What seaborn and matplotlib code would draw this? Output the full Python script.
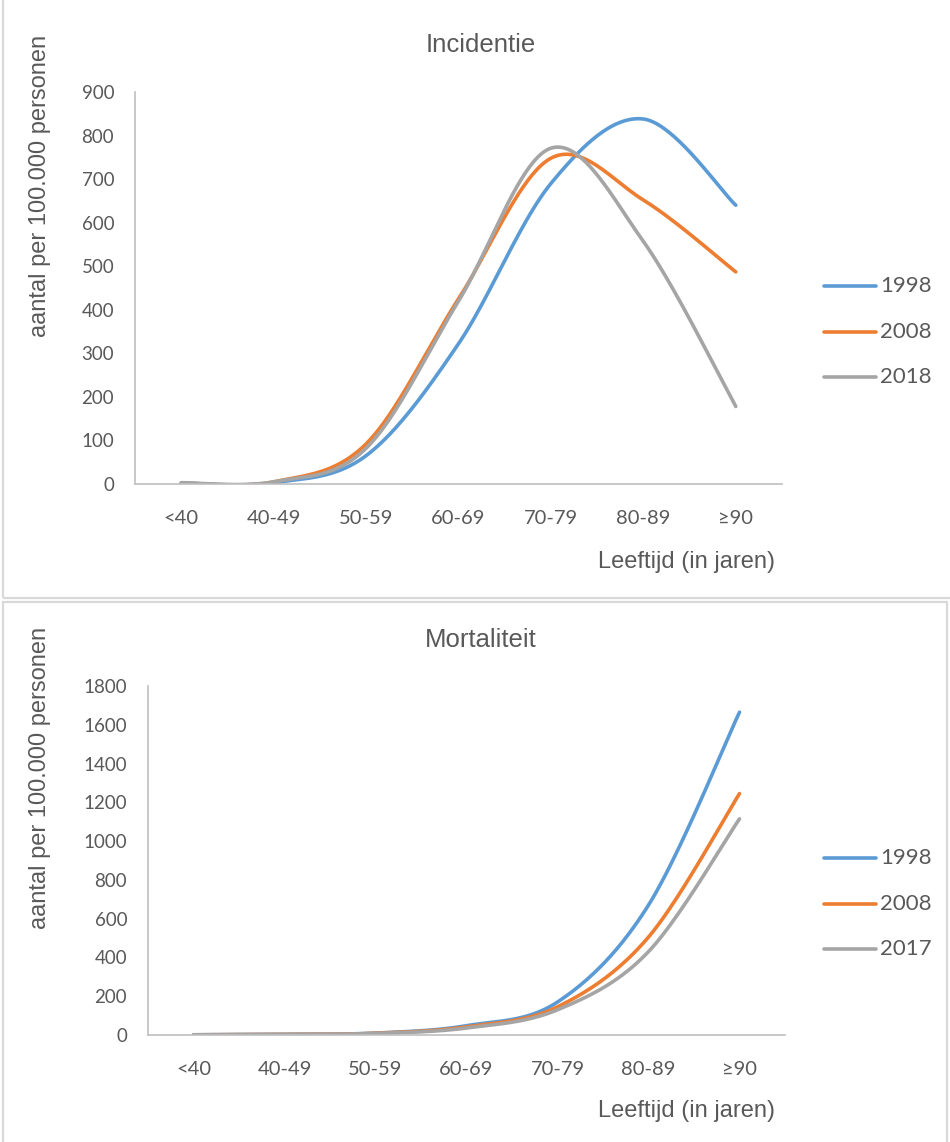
import numpy as np
import pandas as pd
import matplotlib
matplotlib.use("Agg")
import matplotlib.pyplot as plt
from matplotlib.patches import Rectangle
import seaborn as sns

# Age groups on the x axis
leeftijd = ["<40", "40-49", "50-59", "60-69", "70-79", "80-89", "≥90"]

# Incidence per 100.000 persons
inc_jaren = ["1998", "2008", "2018"]
inc_1998 = [2, 3, 65, 322, 690, 838, 640]
inc_2008 = [2, 5, 92, 425, 748, 652, 487]
inc_2018 = [3, 5, 82, 420, 771, 557, 178]

# Mortality per 100.000 persons
mort_jaren = ["1998", "2008", "2017"]
mort_1998 = [1, 3, 10, 48, 170, 670, 1665]
mort_2008 = [1, 3, 9, 42, 145, 505, 1245]
mort_2017 = [1, 3, 8, 36, 130, 430, 1115]

kleuren = ["#5B9BD5", "#ED7D31", "#A5A5A5"]
tekst = "#595959"
as_kleur = "#BFBFBF"


def smooth(y, n=40):
    """Spreadsheet-style smoothed line: cubic Bezier segments through every point."""
    y = np.asarray(y, float)
    x = np.arange(len(y), dtype=float)
    px = np.concatenate([[x[0]], x, [x[-1]]])
    py = np.concatenate([[y[0]], y, [y[-1]]])
    xs, ys = [], []
    t = np.linspace(0, 1, n, endpoint=False)
    for i in range(len(y) - 1):
        p0 = np.array([x[i], y[i]])
        p3 = np.array([x[i + 1], y[i + 1]])
        prev = np.array([px[i], py[i]])
        nxt = np.array([px[i + 3], py[i + 3]])
        c1 = p0 + (p3 - prev) / 6.0
        c2 = p3 - (nxt - p0) / 6.0
        b = ((1 - t) ** 3)[:, None] * p0 + (3 * (1 - t) ** 2 * t)[:, None] * c1 \
            + (3 * (1 - t) * t ** 2)[:, None] * c2 + (t ** 3)[:, None] * p3
        xs.append(b[:, 0]); ys.append(b[:, 1])
    xs.append([x[-1]]); ys.append([y[-1]])
    return np.concatenate(xs), np.concatenate(ys)


def long_table(jaren, reeksen):
    rows = []
    for jaar, vals in zip(jaren, reeksen):
        sx, sy = smooth(vals)
        rows.append(pd.DataFrame({"x": sx, "y": sy, "jaar": jaar}))
    return pd.concat(rows, ignore_index=True)


sns.set_theme(style="white")
plt.rcParams["font.family"] = ["Liberation Sans", "DejaVu Sans"]

W, H = 950, 1142
fig = plt.figure(figsize=(W / 100, H / 100), dpi=100)

# Panel frames
fig.patches.append(Rectangle((3 / W, 1 - 598 / H), 960 / W, 610 / H, transform=fig.transFigure,
                             fill=False, edgecolor="#D9D9D9", lw=1.6))
fig.patches.append(Rectangle((3 / W, -0.01), 944 / W, 1 - 602 / H + 0.01, transform=fig.transFigure,
                             fill=False, edgecolor="#D9D9D9", lw=1.6))

panels = [
    dict(title="Incidentie", jaren=inc_jaren, reeksen=[inc_1998, inc_2008, inc_2018],
         rect=(135, 92, 782, 484), ymax=900, ystep=100, title_y=45, ylab_y=186,
         xlab_y=562, leg_y=286),
    dict(title="Mortaliteit", jaren=mort_jaren, reeksen=[mort_1998, mort_2008, mort_2017],
         rect=(148, 686, 785, 1035), ymax=1800, ystep=200, title_y=640, ylab_y=778,
         xlab_y=1111, leg_y=858),
]

for p in panels:
    l, t, r, b = p["rect"]
    ax = fig.add_axes([l / W, 1 - b / H, (r - l) / W, (b - t) / H])
    df = long_table(p["jaren"], p["reeksen"])
    sns.lineplot(data=df, x="x", y="y", hue="jaar", palette=kleuren, lw=2.6,
                 sort=False, estimator=None, ax=ax, legend=False,
                 solid_capstyle="round")
    ax.set_xlim(-0.5, len(leeftijd) - 0.5)
    ax.set_ylim(0, p["ymax"])
    ax.set_xticks(range(len(leeftijd)))
    ax.set_xticklabels(leeftijd)
    ax.set_yticks(np.arange(0, p["ymax"] + 1, p["ystep"]))
    ax.tick_params(axis="both", length=0, labelcolor=tekst, labelsize=13.5)
    ax.tick_params(axis="x", pad=19, labelsize=14.5)
    ax.tick_params(axis="y", pad=15)
    for lab in ax.get_xticklabels() + ax.get_yticklabels():
        lab.set_fontfamily(["Lato", "DejaVu Sans"])
    ax.set_xlabel(""); ax.set_ylabel("")
    for s in ["top", "right"]:
        ax.spines[s].set_visible(False)
    for s in ["left", "bottom"]:
        ax.spines[s].set_color(as_kleur)
        ax.spines[s].set_linewidth(1.2)
    ax.patch.set_alpha(0)

    fig.text(481 / W, 1 - p["title_y"] / H, p["title"], ha="center", va="center",
             fontsize=18.5, color=tekst)
    fig.text(40 / W, 1 - p["ylab_y"] / H, "aantal per 100.000 personen", rotation=90,
             ha="center", va="center", fontsize=17, color=tekst)
    fig.text(775 / W, 1 - p["xlab_y"] / H, "Leeftijd (in jaren)", ha="right", va="center",
             fontsize=17, color=tekst)

    # Legend to the right of the plot area
    for i, (jaar, kl) in enumerate(zip(p["jaren"], kleuren)):
        yy = 1 - (p["leg_y"] + i * 45.5) / H
        fig.add_artist(plt.Line2D([824 / W, 876 / W], [yy, yy], transform=fig.transFigure,
                                  color=kl, lw=2.6, solid_capstyle="round"))
        fig.text(880 / W, yy, jaar, ha="left", va="center", fontsize=16, color=tekst,
                 family=["Lato", "DejaVu Sans"])

fig.savefig("out.png", dpi=100)
